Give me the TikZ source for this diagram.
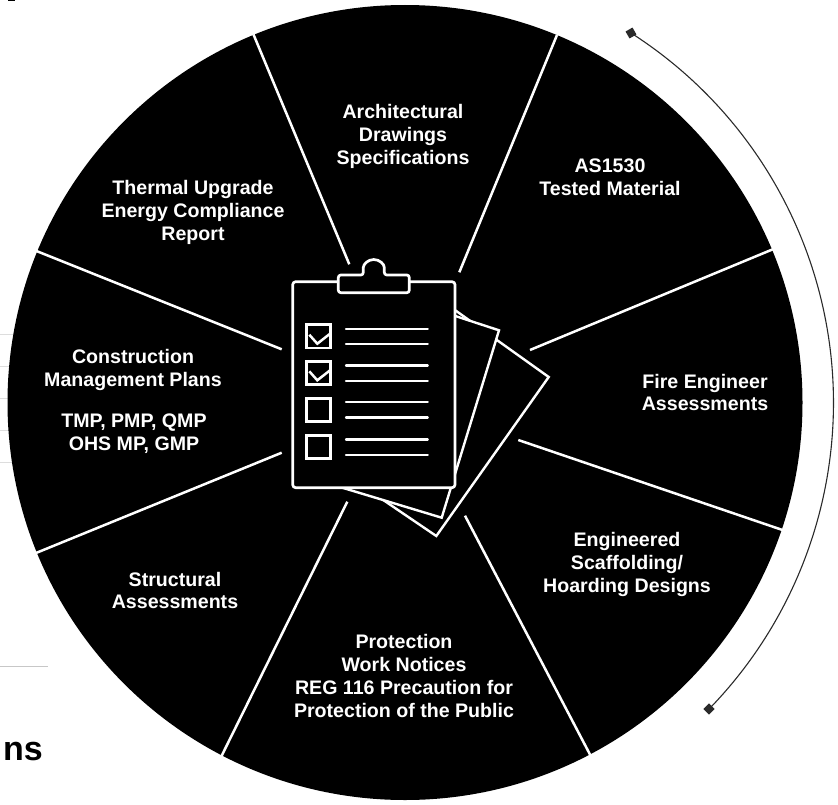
\documentclass[tikz,border=0pt]{standalone}
\usepackage{fontspec}
\setmainfont{Liberation Sans}
\usetikzlibrary{calc}
\definecolor{rulegray}{HTML}{DDDDDD}
\definecolor{arcgray}{HTML}{2A2A2A}
\tikzset{
  lbl/.style={text=white,align=center,inner sep=0pt,font=\fontsize{19.6bp}{22.7bp}\selectfont\bfseries},
  spoke/.style={draw=white,line width=2.5bp},
  ico/.style={draw=white,line width=2.7bp,line join=round,fill=black},
  icoline/.style={draw=white,line width=2.4bp,line cap=round},
  boxmark/.style={draw=white,line width=2.5bp},
  paper/.style={draw=white,line width=2.4bp,fill=black,line join=miter},
  endmark/.style={rectangle,fill=arcgray,minimum size=8bp,inner sep=0pt},
  bgrule/.style={draw=rulegray,line width=1bp}
}
\begin{document}
\begin{tikzpicture}[x=1bp,y=-1bp]
\useasboundingbox (0,0) rectangle (838,805);
% background remnants
\coordinate (r1a) at (0,334.3); \coordinate (r1b) at (30,334.3);
\coordinate (r2a) at (0,366.7); \coordinate (r2b) at (30,366.7);
\coordinate (r3a) at (0,398.7); \coordinate (r3b) at (30,398.7);
\coordinate (r4a) at (0,430.7); \coordinate (r4b) at (30,430.7);
\coordinate (r5a) at (0,462.7); \coordinate (r5b) at (30,462.7);
\coordinate (r6a) at (0,666.7); \coordinate (r6b) at (48,666.7);
\foreach \k in {1,...,5} {\draw[bgrule] (r\k a) -- (r\k b);}
\draw[draw=rulegray!90!black,line width=1.2bp] (r6a) -- (r6b);
\node[anchor=base west,inner sep=0pt,font=\fontsize{34bp}{34bp}\selectfont\bfseries,text=black] (frag) at (3,760) {ns};
\fill[black] (7.5,0) rectangle (15,1.5);
% disc
\coordinate (c) at (405,402.5);
\fill[black] (c) circle[radius=397.5];
% spokes
\coordinate (s1o) at (253.5,34.5);  \coordinate (s1i) at (349.3,264.3);
\coordinate (s2o) at (557,35);      \coordinate (s2i) at (459.3,272.3);
\coordinate (s3o) at (773.5,249);   \coordinate (s3i) at (530,350);
\coordinate (s4o) at (782.5,530);   \coordinate (s4i) at (518.3,440);
\coordinate (s5o) at (590.5,755.5); \coordinate (s5i) at (465,515.7);
\coordinate (s6o) at (221.3,756.5); \coordinate (s6i) at (347.3,501.7);
\coordinate (s7o) at (36,553);      \coordinate (s7i) at (281.7,452.7);
\coordinate (s8o) at (34,250);      \coordinate (s8i) at (281.7,349.3);
\foreach \k in {1,...,8} {\draw[spoke] (s\k o) -- (s\k i);}
% outer arc
\node[endmark,rotate=30] (dtop) at (631,33) {};
\node[endmark,rotate=45] (dbot) at (709,709) {};
\draw[arcgray,line width=1.1bp] (dtop.center) arc[start angle=-57.4,end angle=44.2,radius=439];
% papers
\draw[paper] (548.7,377) -- (436.3,536) -- (370,491) -- (440,299.4) -- cycle;
\draw[paper] (499,330.3) -- (441.7,517.7) -- (330,484) -- (440,311) -- cycle;
% clipboard
\draw[ico,rounded corners=3bp] (292.7,281.7) rectangle (455,487.7);
\draw[ico,rounded corners=2.5bp] (338.3,292.7) -- (338.3,275) -- (363.3,275) -- (363.3,270)
  arc[start angle=180,end angle=360,radius=10.5] -- (384.3,275) -- (409.3,275) -- (409.3,292.7) -- cycle;
% check boxes
\foreach \yy in {324.7,361.3,398.3,435.3} {\draw[boxmark] (306.7,\yy) rectangle ++(24,23.4);}
\foreach \yy in {324.7,361.3} {\draw[boxmark] (309.3,\yy+10) -- (317.3,\yy+19) -- (330.7,\yy+8.5);}
\foreach \yy in {328.7,344,365.3,380.7,402,417.3,439.3,454.7} {\draw[icoline] (346,\yy) -- (427.7,\yy);}
% labels
\node[lbl] (t1) at (403,136.5) {Architectural\\Drawings\\Specifications};
\node[lbl] (t2) at (610,177.5) {AS1530\\Tested Material};
\node[lbl] (t3) at (193,212.5) {Thermal Upgrade\\Energy Compliance\\Report};
\node[lbl] (t4) at (133,370) {Construction\\Management Plans};
\node[lbl] (t5) at (134,433.5) {TMP, PMP, QMP\\OHS MP, GMP};
\node[lbl] (t6) at (705,392.5) {Fire Engineer\\Assessments};
\node[lbl] (t7) at (627,564.5) {Engineered\\Scaffolding/\\Hoarding Designs};
\node[lbl] (t8) at (175,590.5) {Structural\\Assessments};
\node[lbl] (t9) at (404,676) {Protection\\Work Notices\\REG 116 Precaution for\\Protection of the Public};
\end{tikzpicture}
\end{document}
